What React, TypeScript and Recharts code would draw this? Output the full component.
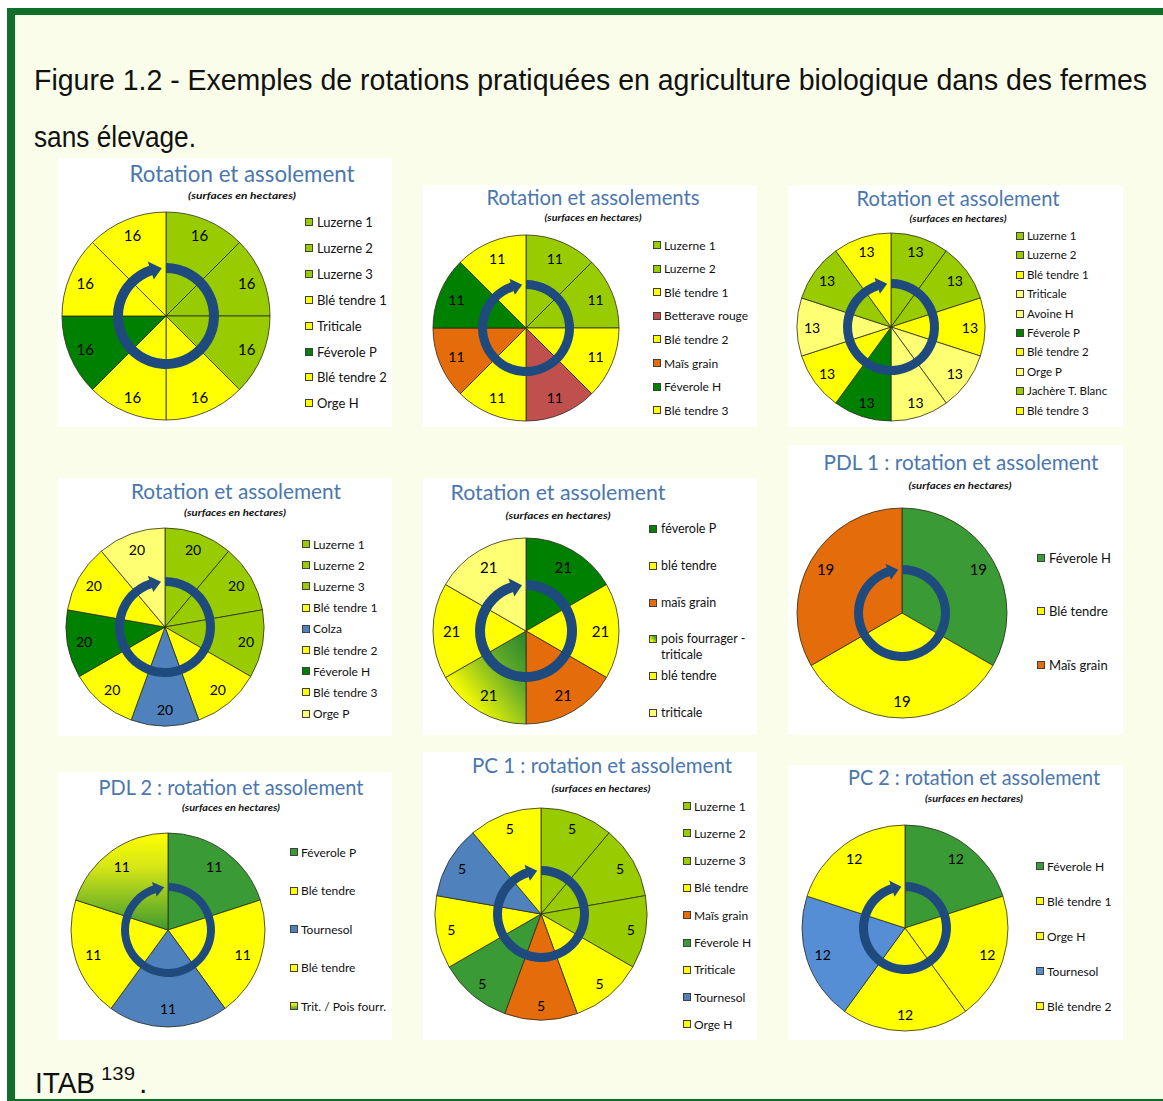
import { Cell, Legend, Pie, PieChart } from 'recharts'

const FONT = 'Lato, "Noto Sans", sans-serif'
const RAD = Math.PI / 180

// crop colours
const LUZ = '#99cc00'
const YEL = '#ffff00'
const PALE = '#ffff73'
const DARK = '#008000'
const MID = '#3a9a35'
const BEET = '#c0504d'
const MAIZE = '#e46c0a'
const BLUE = '#4f81bd'
const BLUE2 = '#558ed5'
const GRAD5 = 'url(#pois5)'
const GRAD7 = 'url(#pois7)'

const RING = '#1f4a7e'
const TITLE = '#4a77ad'
const FRAME = '#10702a'

// --- data, one set of arrays per rotation ---
const p1Crops = ['Luzerne 1', 'Luzerne 2', 'Luzerne 3', 'Blé tendre 1', 'Triticale', 'Féverole P', 'Blé tendre 2', 'Orge H']
const p1Surfaces = [16, 16, 16, 16, 16, 16, 16, 16]
const p1Colors = [LUZ, LUZ, LUZ, YEL, YEL, DARK, YEL, YEL]

const p2Crops = ['Luzerne 1', 'Luzerne 2', 'Blé tendre 1', 'Betterave rouge', 'Blé tendre 2', 'Maïs grain', 'Féverole H', 'Blé tendre 3']
const p2Surfaces = [11, 11, 11, 11, 11, 11, 11, 11]
const p2Colors = [LUZ, LUZ, YEL, BEET, YEL, MAIZE, DARK, YEL]

const p3Crops = ['Luzerne 1', 'Luzerne 2', 'Blé tendre 1', 'Triticale', 'Avoine H', 'Féverole P', 'Blé tendre 2', 'Orge P', 'Jachère T. Blanc', 'Blé tendre 3']
const p3Surfaces = [13, 13, 13, 13, 13, 13, 13, 13, 13, 13]
const p3Colors = [LUZ, LUZ, YEL, PALE, PALE, DARK, YEL, PALE, LUZ, YEL]

const p4Crops = ['Luzerne 1', 'Luzerne 2', 'Luzerne 3', 'Blé tendre 1', 'Colza', 'Blé tendre 2', 'Féverole H', 'Blé tendre 3', 'Orge P']
const p4Surfaces = [20, 20, 20, 20, 20, 20, 20, 20, 20]
const p4Colors = [LUZ, LUZ, LUZ, YEL, BLUE, YEL, DARK, YEL, PALE]

const p5Crops = ['féverole P', 'blé tendre', 'maïs grain', 'pois fourrager - triticale', 'blé tendre', 'triticale']
const p5Surfaces = [21, 21, 21, 21, 21, 21]
const p5Colors = [DARK, YEL, MAIZE, GRAD5, YEL, PALE]

const p6Crops = ['Féverole H', 'Blé tendre', 'Maïs grain']
const p6Surfaces = [19, 19, 19]
const p6Colors = [MID, YEL, MAIZE]

const p7Crops = ['Féverole P', 'Blé tendre', 'Tournesol', 'Blé tendre', 'Trit. / Pois fourr.']
const p7Surfaces = [11, 11, 11, 11, 11]
const p7Colors = [MID, YEL, BLUE, YEL, GRAD7]

const p8Crops = ['Luzerne 1', 'Luzerne 2', 'Luzerne 3', 'Blé tendre', 'Maïs grain', 'Féverole H', 'Triticale', 'Tournesol', 'Orge H']
const p8Surfaces = [5, 5, 5, 5, 5, 5, 5, 5, 5]
const p8Colors = [LUZ, LUZ, LUZ, YEL, MAIZE, MID, YEL, BLUE, YEL]

const p9Crops = ['Féverole H', 'Blé tendre 1', 'Orge H', 'Tournesol', 'Blé tendre 2']
const p9Surfaces = [12, 12, 12, 12, 12]
const p9Colors = [MID, YEL, YEL, BLUE2, YEL]

const CYCLE = [{ name: 'cycle', value: 1 }]
const RING_END = 108
const ARROW_TIP = 95

type PanelCfg = {
  box: [number, number, number, number]
  title: string
  titleAt: [number, number, number, number] // x, baseline, size, width
  subAt: [number, number, number]
  crops: string[]
  surfaces: number[]
  colors: string[]
  cx: number
  cy: number
  r: number
  ringIn: number
  ringOut: number
  labelRatio: number
  labelSize: number
  legend: { mx: number; tx: number; y: number; step: number; size: number; wrap?: number }
}

const panels: PanelCfg[] = [
  {
    box: [58, 158, 334, 269], title: 'Rotation et assolement', titleAt: [184, 24, 23, 225], subAt: [184, 41, 108],
    crops: p1Crops, surfaces: p1Surfaces, colors: p1Colors,
    cx: 108, cy: 158, r: 104, ringIn: 43, ringOut: 53, labelRatio: 0.84, labelSize: 15,
    legend: { mx: 247, tx: 259, y: 64, step: 25.9, size: 13 },
  },
  {
    box: [423, 185, 334, 242], title: 'Rotation et assolements', titleAt: [170, 20, 21, 213], subAt: [170, 35.7, 97],
    crops: p2Crops, surfaces: p2Surfaces, colors: p2Colors,
    cx: 103, cy: 143, r: 93, ringIn: 39, ringOut: 48, labelRatio: 0.81, labelSize: 14,
    legend: { mx: 230, tx: 241, y: 60, step: 23.6, size: 12 },
  },
  {
    box: [788, 185, 335, 242], title: 'Rotation et assolement', titleAt: [170, 21, 21, 203], subAt: [170, 36.7, 97],
    crops: p3Crops, surfaces: p3Surfaces, colors: p3Colors,
    cx: 103, cy: 142, r: 94, ringIn: 39, ringOut: 48, labelRatio: 0.84, labelSize: 14,
    legend: { mx: 228, tx: 239, y: 51, step: 19.4, size: 11.5 },
  },
  {
    box: [58, 478, 334, 258], title: 'Rotation et assolement', titleAt: [178, 21, 21, 210], subAt: [177, 37.7, 102],
    crops: p4Crops, surfaces: p4Surfaces, colors: p4Colors,
    cx: 107, cy: 149, r: 99, ringIn: 41, ringOut: 50, labelRatio: 0.83, labelSize: 14,
    legend: { mx: 244, tx: 255, y: 66, step: 21.2, size: 12 },
  },
  {
    box: [423, 478, 334, 257], title: 'Rotation et assolement', titleAt: [135, 22, 21, 215], subAt: [135, 41, 105],
    crops: p5Crops, surfaces: p5Surfaces, colors: p5Colors,
    cx: 103, cy: 153, r: 93, ringIn: 41, ringOut: 51, labelRatio: 0.8, labelSize: 15,
    legend: { mx: 226, tx: 238, y: 51.3, step: 36.7, size: 12.5, wrap: 100 },
  },
  {
    box: [788, 445, 335, 290], title: 'PDL 1 : rotation et assolement', titleAt: [173, 25, 21, 275], subAt: [172, 44, 103],
    crops: p6Crops, surfaces: p6Surfaces, colors: p6Colors,
    cx: 114, cy: 168, r: 105, ringIn: 39, ringOut: 48, labelRatio: 0.84, labelSize: 15,
    legend: { mx: 249, tx: 261, y: 113, step: 53.3, size: 13 },
  },
  {
    box: [58, 772, 334, 268], title: 'PDL 2 : rotation et assolement', titleAt: [173, 23, 21, 265], subAt: [173, 38.7, 98],
    crops: p7Crops, surfaces: p7Surfaces, colors: p7Colors,
    cx: 110, cy: 158, r: 97, ringIn: 39, ringOut: 47, labelRatio: 0.81, labelSize: 14,
    legend: { mx: 232, tx: 243, y: 80, step: 38.5, size: 12 },
  },
  {
    box: [423, 752, 334, 288], title: 'PC 1 : rotation et assolement', titleAt: [179, 21, 21, 260], subAt: [178, 39.7, 99],
    crops: p8Crops, surfaces: p8Surfaces, colors: p8Colors,
    cx: 118, cy: 162, r: 106, ringIn: 39, ringOut: 48, labelRatio: 0.86, labelSize: 14,
    legend: { mx: 260, tx: 271, y: 54, step: 27.3, size: 12 },
  },
  {
    box: [788, 765, 335, 275], title: 'PC 2 : rotation et assolement', titleAt: [186, 20, 21, 252], subAt: [186, 36.7, 98],
    crops: p9Crops, surfaces: p9Surfaces, colors: p9Colors,
    cx: 117, cy: 163, r: 103, ringIn: 37, ringOut: 46, labelRatio: 0.84, labelSize: 14,
    legend: { mx: 248, tx: 259, y: 101, step: 35, size: 12 },
  },
]

const MARK = 8
const CAPTION_SX = 0.88 // caption font is narrower than Liberation Sans

const sliceLabel = (p: PanelCfg) => (props: any) => {
  const { cx, cy, midAngle, outerRadius, value } = props
  const r = outerRadius * p.labelRatio
  const x = cx + r * Math.cos(-midAngle * RAD)
  const y = cy + r * Math.sin(-midAngle * RAD)
  return (
    <text x={x} y={y} textAnchor="middle" dominantBaseline="central" fontSize={p.labelSize} fontFamily={FONT} fill="#000">
      {value}
    </text>
  )
}

// arrow head at the end of the rotation ring
const arrowHead = (props: any) => {
  const { cx, cy, innerRadius, outerRadius } = props
  const t = outerRadius - innerRadius
  const pt = (r: number, a: number) => `${cx + r * Math.cos(a * RAD)},${cy - r * Math.sin(a * RAD)}`
  const pts = [
    pt(innerRadius - t * 0.45, RING_END + 0.5),
    pt(outerRadius + t * 0.45, RING_END + 0.5),
    pt((innerRadius + outerRadius) / 2, ARROW_TIP),
  ].join(' ')
  return <polygon points={pts} fill={RING} />
}

// legend keeps the rotation order (the library sorts its payload by name)
const legendContent = (p: PanelCfg) => () => {
  const lh = Math.round(p.legend.size * 1.25)
  const gap = p.legend.tx - p.legend.mx - MARK
  return (
    <div style={{ position: 'relative', fontFamily: FONT, fontSize: p.legend.size, color: '#111' }}>
      {p.crops.map((crop, i) => (
        <div
          key={i}
          style={{
            position: 'absolute',
            left: 0,
            top: i * p.legend.step,
            display: 'flex',
            alignItems: 'flex-start',
            lineHeight: `${lh}px`,
            width: p.legend.wrap ?? 'auto',
            whiteSpace: p.legend.wrap ? 'normal' : 'nowrap',
          }}
        >
          <svg width={MARK} height={MARK} style={{ marginTop: (lh - MARK) / 2, marginRight: gap, flex: 'none' }}>
            <rect x={0.5} y={0.5} width={MARK - 1} height={MARK - 1} fill={p.colors[i]} stroke="#404040" />
          </svg>
          <span>{crop}</span>
        </div>
      ))}
    </div>
  )
}

function RotationPanel({ p }: { p: PanelCfg }) {
  const [bx, by, bw, bh] = p.box
  const rows = p.crops.map((name, i) => ({ name, value: p.surfaces[i] }))
  const lh = Math.round(p.legend.size * 1.25)
  return (
    <div style={{ position: 'absolute', left: bx, top: by, width: bw, height: bh, background: '#ffffff' }}>
      <PieChart width={bw} height={bh} margin={{ top: 0, right: 0, bottom: 0, left: 0 }}>
        <Pie
          data={rows}
          dataKey="value"
          nameKey="name"
          cx={p.cx}
          cy={p.cy}
          outerRadius={p.r}
          startAngle={90}
          endAngle={-270}
          stroke="#2c2c1c"
          strokeWidth={0.8}
          label={sliceLabel(p)}
          labelLine={false}
          isAnimationActive={false}
        >
          {rows.map((_, i) => (
            <Cell key={i} fill={p.colors[i]} />
          ))}
        </Pie>
        <Pie
          data={CYCLE}
          dataKey="value"
          cx={p.cx}
          cy={p.cy}
          innerRadius={p.ringIn}
          outerRadius={p.ringOut}
          startAngle={90}
          endAngle={RING_END - 360}
          fill={RING}
          stroke="none"
          legendType="none"
          label={arrowHead}
          labelLine={false}
          isAnimationActive={false}
        />
        <Legend
          layout="vertical"
          align="right"
          verticalAlign="top"
          content={legendContent(p)}
          wrapperStyle={{ left: p.legend.mx, top: p.legend.y - lh / 2, width: bw - p.legend.mx - 2, height: p.crops.length * p.legend.step }}
        />
      </PieChart>
      <svg width={bw} height={60} style={{ position: 'absolute', left: 0, top: 0, pointerEvents: 'none' }}>
        <text
          x={p.titleAt[0]}
          y={p.titleAt[1]}
          textAnchor="middle"
          fontSize={p.titleAt[2]}
          textLength={p.titleAt[3]}
          lengthAdjust="spacingAndGlyphs"
          fontFamily={FONT}
          fill={TITLE}
        >
          {p.title}
        </text>
        <text
          x={p.subAt[0]}
          y={p.subAt[1]}
          textAnchor="middle"
          fontSize={9.5}
          textLength={p.subAt[2]}
          lengthAdjust="spacingAndGlyphs"
          fontFamily={FONT}
          fontStyle="italic"
          fontWeight="bold"
          fill="#111"
        >
          (surfaces en hectares)
        </text>
      </svg>
    </div>
  )
}

export default function App() {
  return (
    <div style={{ position: 'absolute', left: 0, top: 0, width: 1163, height: 1101, overflow: 'hidden', background: '#fff' }}>
      <svg width={0} height={0} style={{ position: 'absolute' }}>
        <defs>
          <linearGradient id="pois5" x1="1" y1="0.1" x2="0.1" y2="0.9">
            <stop offset="0" stopColor="#2f8a2a" />
            <stop offset="0.3" stopColor="#5fa82a" />
            <stop offset="0.85" stopColor="#ffff00" />
          </linearGradient>
          <linearGradient id="pois7" x1="0" y1="0" x2="0" y2="1">
            <stop offset="0" stopColor="#ffff00" />
            <stop offset="0.35" stopColor="#d6e617" />
            <stop offset="1" stopColor="#3f9a2e" />
          </linearGradient>
        </defs>
      </svg>
      <div
        style={{
          position: 'absolute',
          left: 7,
          top: 8,
          width: 1163 - 7,
          height: 1101 - 8,
          boxSizing: 'border-box',
          borderTop: `7px solid ${FRAME}`,
          borderLeft: `8px solid ${FRAME}`,
          borderBottom: `2px solid ${FRAME}`,
          background: '#f9fdea',
        }}
      />
      <svg width={1163} height={1101} style={{ position: 'absolute', left: 0, top: 0 }}>
        <g fontFamily='"Liberation Sans", Arial, sans-serif' fill="#111" transform={`scale(${CAPTION_SX},1)`}>
          <text x={34 / CAPTION_SX} y={90} fontSize={30} textLength={1113 / CAPTION_SX} lengthAdjust="spacingAndGlyphs">
            Figure 1.2 - Exemples de rotations pratiquées en agriculture biologique dans des fermes
          </text>
          <text x={34 / CAPTION_SX} y={147} fontSize={30} textLength={162 / CAPTION_SX} lengthAdjust="spacingAndGlyphs">
            sans élevage.
          </text>
        </g>
        <g fontFamily='"Liberation Sans", Arial, sans-serif' fill="#111">
          <text x={35} y={1093} fontSize={30} textLength={60} lengthAdjust="spacingAndGlyphs">
            ITAB
          </text>
          <text x={101} y={1080} fontSize={19} textLength={34} lengthAdjust="spacingAndGlyphs">
            139
          </text>
          <text x={139} y={1093} fontSize={30}>
            .
          </text>
        </g>
      </svg>
      {panels.map((p, i) => (
        <RotationPanel key={i} p={p} />
      ))}
    </div>
  )
}
